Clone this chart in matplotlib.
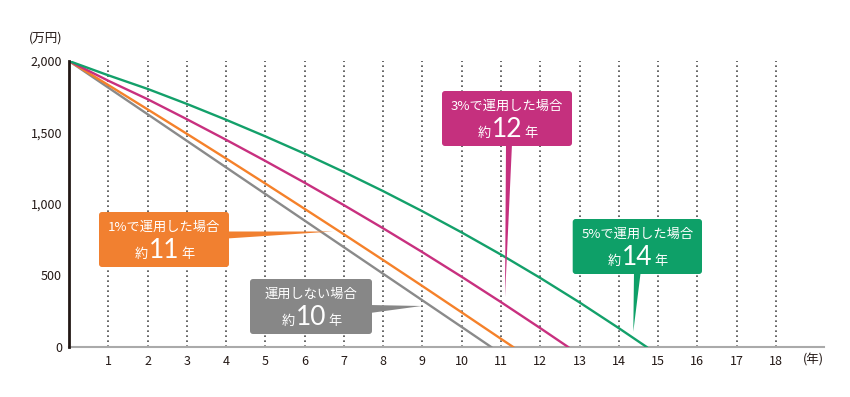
import matplotlib
matplotlib.use('Agg')
import matplotlib.pyplot as plt
from matplotlib.patches import FancyBboxPatch, Polygon
from matplotlib.ticker import FuncFormatter
import matplotlib.transforms as mtrans

plt.rcParams['font.family'] = ['Noto Sans CJK JP', 'DejaVu Sans']

# ---------------- data ----------------
x_ticks = list(range(1, 19))
y_ticks = [0, 500, 1000, 1500, 2000]

none_x = [0, 1, 2, 3, 4, 5, 6, 7, 8, 9, 10, 10.75]
none_y = [2000, 1814, 1628, 1442, 1256, 1070, 884, 698, 512, 326, 140, 0]

r1_x = [0, 1, 2, 3, 4, 5, 6, 7, 8, 9, 10, 11, 11.31]
r1_y = [2000, 1832, 1662, 1491, 1318, 1143, 966, 788, 608, 426, 242, 57, 0]

r3_x = [0, 1, 2, 3, 4, 5, 6, 7, 8, 9, 10, 11, 12, 12.71]
r3_y = [2000, 1862, 1733, 1593, 1449, 1301, 1149, 992, 830, 663, 491, 314, 132, 0]

r5_x = [0, 1, 2, 3, 4, 5, 6, 7, 8, 9, 10, 11, 12, 13, 14, 14.71]
r5_y = [2000, 1900, 1805, 1700, 1589, 1473, 1352, 1224, 1090, 949, 801, 646, 483, 312, 132, 0]

labels = ['運用しない場合', '1%で運用した場合', '3%で運用した場合', '5%で運用した場合']
years_txt = ['10', '11', '12', '14']

c_gray = '#8a8a8a'
c_orange = '#f5812a'
c_mag = '#c8307f'
c_green = '#13a06a'
box_cols = ['#878787', '#f18030', '#c5307e', '#0ea068']

W, H = 850, 397
fig = plt.figure(figsize=(W / 100, H / 100), dpi=100)
ax = fig.add_axes([69 / W, 50 / H, 755 / W, 286 / H])
ax.set_xlim(0, 755 / 39.27)
ax.set_ylim(0, 2000)

# dotted verticals
ax.vlines(x_ticks, 0, 2000, colors='#4a4a4a', linestyles=(0, (1, 2)), linewidth=1.2, zorder=1)

ax.plot(none_x, none_y, color=c_gray, lw=1.7, zorder=3)
ax.plot(r1_x, r1_y, color=c_orange, lw=1.7, zorder=3)
ax.plot(r3_x, r3_y, color=c_mag, lw=1.7, zorder=3)
ax.plot(r5_x, r5_y, color=c_green, lw=1.7, zorder=3)

for s in ['top', 'right']:
    ax.spines[s].set_visible(False)
ax.spines['left'].set_color('#231815')
ax.spines['left'].set_linewidth(2.0)
ax.spines['bottom'].set_color('#aaaaaa')
ax.spines['bottom'].set_linewidth(1.5)
ax.spines['left'].set_zorder(4)

ax.set_xticks(x_ticks)
ax.set_xticklabels([str(v) for v in x_ticks])
ax.set_yticks(y_ticks)
ax.yaxis.set_major_formatter(FuncFormatter(lambda v, p: f"{int(v):,}"))
ax.tick_params(axis='both', length=0, labelsize=9, colors='#231815')
ax.tick_params(axis='x', pad=6)
ax.tick_params(axis='y', pad=5)

px = mtrans.Affine2D().scale(1 / W, -1 / H).translate(0, 1) + fig.transFigure

fig.text(46, 38, '(万円)', transform=px, ha='center', va='center', fontsize=9, color='#231815')
fig.text(813, 360, '(年)', transform=px, ha='center', va='center', fontsize=9, color='#231815')

# callouts: (box x0, x1, y0, y1), tail polygon
boxes = [
    ((250, 372, 279, 334), [(370, 305), (370, 313), (421.7, 306)]),
    ((99, 229, 212, 267), [(227, 231.5), (227, 238.5), (333, 231.5)]),
    ((442, 572, 91, 146), [(506, 144), (512, 144), (505, 297)]),
    ((572.7, 702, 219, 274), [(634, 272), (640.7, 272), (633.3, 331.7)]),
]

renderer = fig.canvas.get_renderer()
for (bx, tail), lab, yt, col in zip(boxes, labels, years_txt, box_cols):
    x0, x1, y0, y1 = bx
    p = FancyBboxPatch((x0, y0), x1 - x0, y1 - y0,
                       boxstyle='round,pad=0,rounding_size=3',
                       transform=px, facecolor=col, edgecolor='none', zorder=5)
    fig.add_artist(p)
    tp = Polygon(tail, closed=True, transform=px, facecolor=col, edgecolor='none', zorder=5)
    fig.add_artist(tp)
    cx = (x0 + x1) / 2
    fig.text(cx, y0 + 15, lab, transform=px, ha='center', va='center',
             fontsize=9.5, color='white', zorder=6)
    base = y0 + 46
    t = fig.text(cx, base, yt, transform=px, ha='center', va='baseline',
                 fontsize=19, color='white', zorder=6,
                 family=['Lato', 'DejaVu Sans'], fontweight='normal')
    ext = t.get_window_extent(renderer)
    half = ext.width / 2
    fig.text(cx - half - 1, base, '約', transform=px, ha='right', va='baseline',
             fontsize=9.5, color='white', zorder=6)
    fig.text(cx + half + 2, base, '年', transform=px, ha='left', va='baseline',
             fontsize=9.5, color='white', zorder=6)

fig.savefig('out.png', dpi=100, facecolor='white')
